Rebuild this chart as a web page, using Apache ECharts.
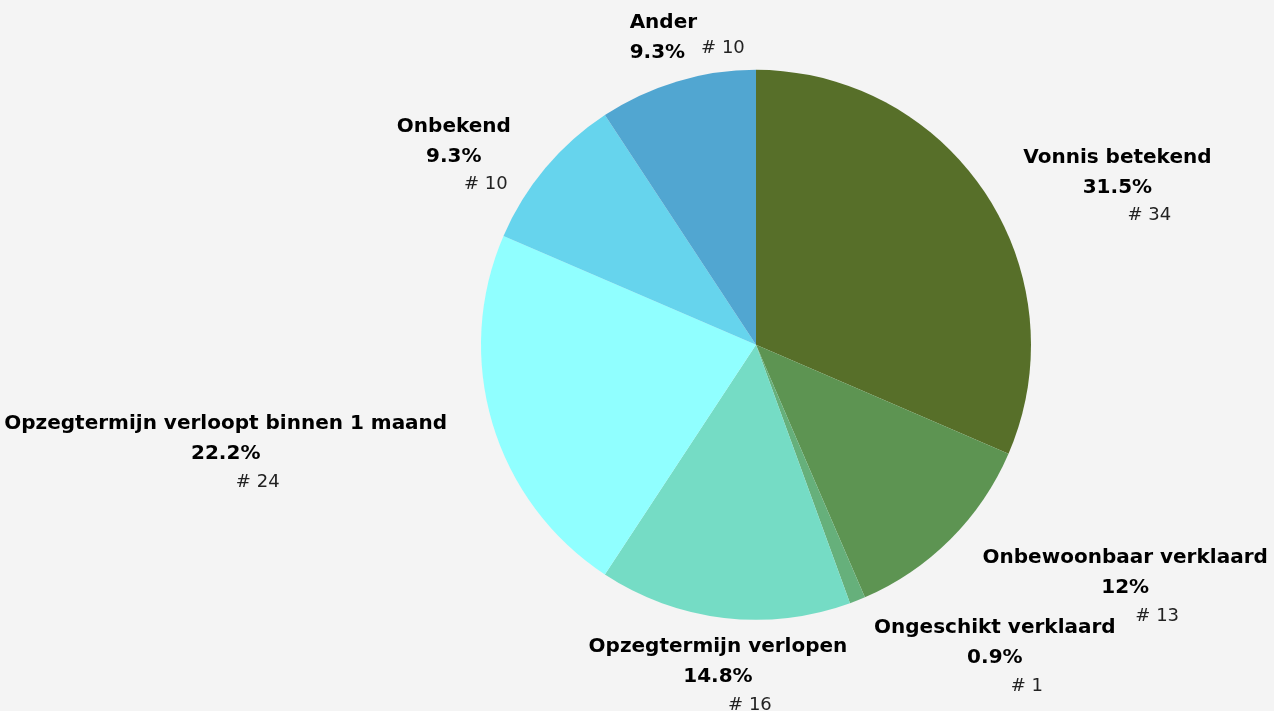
<!DOCTYPE html>
<html>
<head>
<meta charset="utf-8">
<script src="https://cdn.jsdelivr.net/npm/echarts@6/dist/echarts.min.js"></script>
<style>
html,body{margin:0;padding:0;background:#f4f4f4;}
#chart{width:1274px;height:711px;}
</style>
</head>
<body>
<div id="chart"></div>
<script>
const categories = ['Vonnis betekend','Onbewoonbaar verklaard','Ongeschikt verklaard','Opzegtermijn verlopen','Opzegtermijn verloopt binnen 1 maand','Onbekend','Ander'];
const counts = [34, 13, 1, 16, 24, 10, 10];
const colors = ['#576f29','#5d9452','#66b07b','#75dcc5','#90ffff','#66d4ed','#51a6d1'];
// label nudges relative to ECharts' default outside placement [dx, dy]
const labelNudge = [[0,0],[-3,36],[-14,27],[150,42],[-6,24],[2,-4],[97,-29]];

const total = counts.reduce((a,b)=>a+b,0);
function pct(v){ const p = Math.round(v/total*1000)/10; return p + '%'; }

const chart = echarts.init(document.getElementById('chart'));
chart.setOption({
  backgroundColor:'#f4f4f4',
  animation:false,
  series:[{
    type:'pie',
    center:['59.34%','48.5%'],
    radius:275,
    startAngle:90,
    clockwise:true,
    avoidLabelOverlap:true,
    data: categories.map((c,i)=>({name:c, value:counts[i], itemStyle:{color:colors[i]}})),
    itemStyle:{borderWidth:0},
    labelLine:{show:false, length:15, length2:20},
    labelLayout:(p)=>{ const n = labelNudge[p.dataIndex]; return {dx:n[0], dy:n[1]}; },
    label:{
      show:true,
      position:'outside',
      overflow:'none',
      formatter:(p)=>{
        if (p.name==='Ander') return '{na|'+p.name+'}\n{p|'+pct(p.value)+'}{ci|# '+p.value+'}';
        return '{n|'+p.name+'}\n{p|'+pct(p.value)+'}\n{c|# '+p.value+'}';
      },
      rich:{
        n:{fontFamily:'DejaVu Sans',fontWeight:'bold',fontSize:20,color:'#000',lineHeight:30,align:'center'},
        na:{fontFamily:'DejaVu Sans',fontWeight:'bold',fontSize:20,color:'#000',lineHeight:30,align:'left'},
        p:{fontFamily:'DejaVu Sans',fontWeight:'bold',fontSize:20,color:'#000',lineHeight:30,align:'center'},
        c:{fontFamily:'DejaVu Sans',fontSize:18,color:'#222',lineHeight:26,align:'center',padding:[0,0,0,64]},
        ci:{fontFamily:'DejaVu Sans',fontSize:18,color:'#222',lineHeight:30,padding:[0,0,10,16]}
      }
    }
  }]
});
</script>
</body>
</html>
